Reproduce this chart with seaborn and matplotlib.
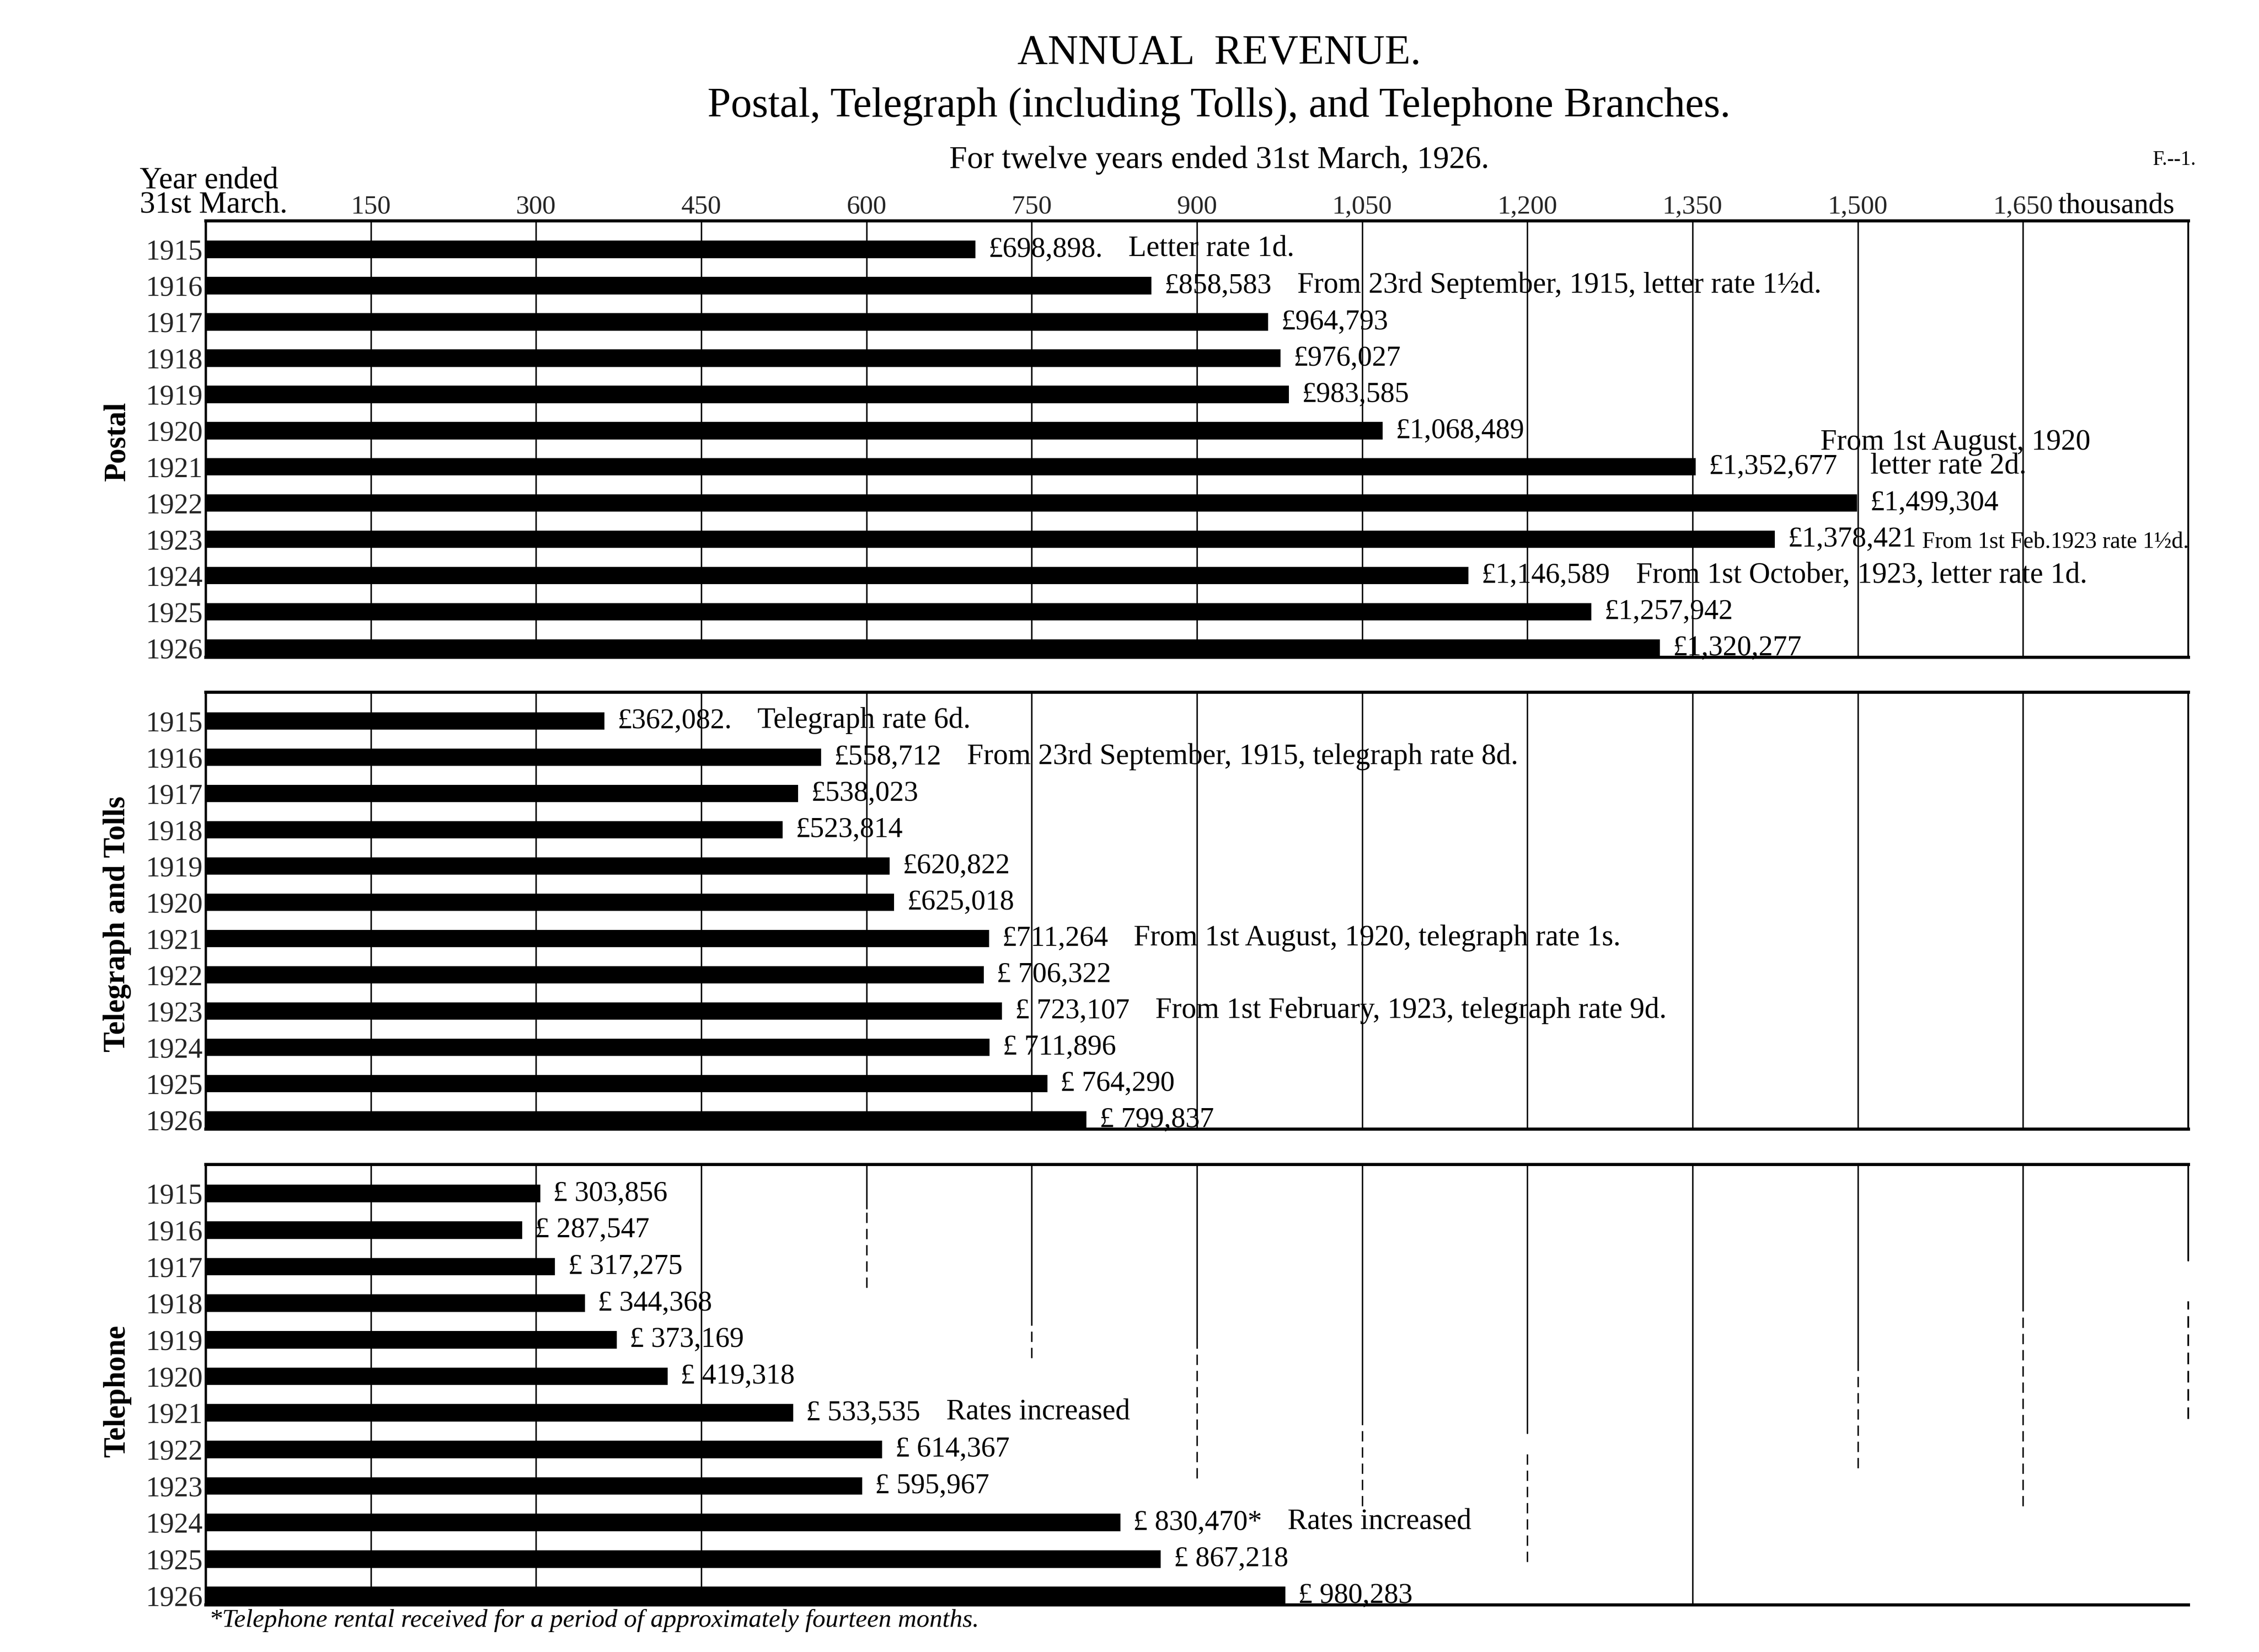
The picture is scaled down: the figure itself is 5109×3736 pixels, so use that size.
import matplotlib
matplotlib.use("Agg")
import matplotlib.pyplot as plt
import pandas as pd
import seaborn as sns

# ---------------- data ----------------
years = ["1915", "1916", "1917", "1918", "1919", "1920",
         "1921", "1922", "1923", "1924", "1925", "1926"]

# bar lengths in £ thousands, as drawn (the 1923 postal bar is drawn longer
# than its printed figure in the original chart)
postal = [698.898, 858.583, 964.793, 976.027, 983.585, 1068.489,
          1352.677, 1499.304, 1424.7, 1146.589, 1257.942, 1320.277]
telegraph = [362.082, 558.712, 538.023, 523.814, 620.822, 625.018,
             711.264, 706.322, 723.107, 711.896, 764.290, 799.837]
telephone = [303.856, 287.547, 317.275, 344.368, 373.169, 419.318,
             533.535, 614.367, 595.967, 830.470, 867.218, 980.283]

postal_labels = ["£698,898.", "£858,583", "£964,793", "£976,027", "£983,585",
                 "£1,068,489", "£1,352,677", "£1,499,304", "£1,378,421",
                 "£1,146,589", "£1,257,942", "£1,320,277"]
telegraph_labels = ["£362,082.", "£558,712", "£538,023", "£523,814", "£620,822",
                    "£625,018", "£711,264", "£ 706,322", "£ 723,107",
                    "£ 711,896", "£ 764,290", "£ 799,837"]
telephone_labels = ["£ 303,856", "£ 287,547", "£ 317,275", "£ 344,368",
                    "£ 373,169", "£ 419,318", "£ 533,535", "£ 614,367",
                    "£ 595,967", "£ 830,470*", "£ 867,218", "£ 980,283"]

postal_notes = {"1915": "Letter rate 1d.",
                "1916": "From 23rd September, 1915, letter rate 1½d.",
                "1921": "letter rate 2d.",
                "1923": "From 1st Feb.1923 rate 1½d.",
                "1924": "From 1st October, 1923, letter rate 1d."}
postal_note_above = {"1921": "From 1st August, 1920"}
telegraph_notes = {"1915": "Telegraph rate 6d.",
                   "1916": "From 23rd September, 1915, telegraph rate 8d.",
                   "1921": "From 1st August, 1920, telegraph rate 1s.",
                   "1923": "From 1st February, 1923, telegraph rate 9d."}
telephone_notes = {"1921": "Rates increased",
                   "1924": "Rates increased"}

panel_names = ["Postal", "Telegraph and Tolls", "Telephone"]

tick_values = [150, 300, 450, 600, 750, 900, 1050, 1200, 1350, 1500, 1650]
tick_labels = ["150", "300", "450", "600", "750", "900",
               "1,050", "1,200", "1,350", "1,500", "1,650"]

title = "ANNUAL  REVENUE."
subtitle = "Postal, Telegraph (including Tolls), and Telephone Branches."
period = "For twelve years ended 31st March, 1926."
footnote = "*Telephone rental received for a period of approximately fourteen months."

# ---------------- style ----------------
sns.set_style("white")
plt.rcParams["font.family"] = ["Liberation Serif", "DejaVu Serif"]
plt.rcParams["text.color"] = "black"

W, H, DPI = 5109, 3736, 300
fig = plt.figure(figsize=(W / DPI, H / DPI), dpi=DPI)
fig.patch.set_facecolor("white")

L, R = 465 / W, 4949 / W
panel_px = [(498.6, 1486), (1565, 2553), (2633, 3629)]
label_y = [998, 2090, 3145]

VAL_FS = 15.5
NOTE_FS = 16
NOTE_GAP = 14

# special note styling (gap in points, font size)
note_style = {("Postal", "1921"): (18, NOTE_FS),
              ("Postal", "1923"): (3, 12.5)}

# telephone panel: worn grid lines (ymin, ymax, style) in axes fraction
SOLID, DASH = "-", (0, (7, 4))
tele_grid = {150: [(0, 1, SOLID)], 300: [(0, 1, SOLID)], 450: [(0, 1, SOLID)],
             600: [(0.9, 1, SOLID), (0.72, 0.9, DASH)],
             750: [(0.647, 1, SOLID), (0.56, 0.647, DASH)],
             900: [(0.604, 1, SOLID), (0.287, 0.604, DASH)],
             1050: [(0.415, 1, SOLID), (0.224, 0.415, DASH)],
             1200: [(0.39, 1, SOLID), (0.097, 0.351, DASH)],
             1350: [(0, 1, SOLID)],
             1500: [(0.555, 1, SOLID), (0.31, 0.555, DASH)],
             1650: [(0.668, 1, SOLID), (0.224, 0.661, DASH)]}
tele_right = [(0.781, 1, SOLID), (0.422, 0.689, DASH)]

series = [postal, telegraph, telephone]
labels = [postal_labels, telegraph_labels, telephone_labels]
notes = [postal_notes, telegraph_notes, telephone_notes]

for k, ((top, bot), name) in enumerate(zip(panel_px, panel_names)):
    ax = fig.add_axes([L, 1 - bot / H, R - L, (bot - top) / H])
    df = pd.DataFrame({"year": years, "value": series[k]})
    sns.barplot(data=df, x="value", y="year", order=years, orient="h",
                color="black", saturation=1, width=0.48, linewidth=0,
                errorbar=None, ax=ax)
    ax.set_xlim(0, 1800)
    ax.set_ylim(11.25, -0.8)
    ax.set_xlabel("")
    ax.set_ylabel("")
    ax.set_xticks(tick_values)
    ax.set_axisbelow(True)

    if k == 0:
        ax.xaxis.set_ticks_position("top")
        ax.set_xticklabels(tick_labels, fontsize=14.5)
        ax.tick_params(axis="x", length=0, pad=0.8)
        ax.annotate("thousands", xy=(1650, 1), xycoords=("data", "axes fraction"),
                    xytext=(19, 4), textcoords="offset points",
                    ha="left", va="baseline", fontsize=15.8)
    else:
        ax.set_xticklabels([])
        ax.tick_params(axis="x", length=0)
    ax.tick_params(axis="y", length=0, pad=1.5, labelsize=15.5)

    # grid lines
    if k < 2:
        ax.grid(axis="x", color="black", linewidth=0.8)
        ax.grid(axis="y", visible=False)
    else:
        ax.grid(False)
        for v in tick_values:
            for lo, hi, ls in tele_grid[v]:
                ax.axvline(v, ymin=lo, ymax=hi, color="black", lw=0.8,
                           linestyle=ls, zorder=0.5)

    # frame
    for side, lw in [("top", 1.7), ("bottom", 1.7), ("left", 1.3), ("right", 1.0)]:
        ax.spines[side].set_visible(True)
        ax.spines[side].set_color("black")
        ax.spines[side].set_linewidth(lw)
    if k == 2:
        ax.spines["right"].set_visible(False)
        for lo, hi, ls in tele_right:
            ax.plot([1, 1], [lo, hi], transform=ax.transAxes, color="black",
                    lw=0.9, linestyle=ls, clip_on=False)

    # value labels
    texts = ax.bar_label(ax.containers[0], labels=labels[k], padding=7,
                         fontsize=VAL_FS)
    note_artists = {}
    for yr, note in notes[k].items():
        gap, fs = note_style.get((name, yr), (NOTE_GAP, NOTE_FS))
        base = texts[years.index(yr)]
        note_artists[yr] = ax.annotate(note, xy=(1, 0), xycoords=base,
                                       xytext=(gap, 0), textcoords="offset points",
                                       ha="left", va="bottom", fontsize=fs)
    if k == 0:
        for yr, note in postal_note_above.items():
            ax.annotate(note, xy=(0, 0), xycoords=note_artists[yr],
                        xytext=(-27, 13.2), textcoords="offset points",
                        ha="left", va="bottom", fontsize=NOTE_FS)

    fig.text(265 / W, 1 - label_y[k] / H, name, rotation=90, ha="center",
             va="center", fontsize=16.5, fontweight="bold")

# headings
fig.text(2757 / W, 1 - 145 / H, title, ha="center", va="baseline", fontsize=22.8)
fig.text(2757 / W, 1 - 264 / H, subtitle, ha="center", va="baseline", fontsize=22.8)
fig.text(2757 / W, 1 - 380 / H, period, ha="center", va="baseline", fontsize=17.4)
fig.text(4967 / W, 1 - 373 / H, "F.--1.", ha="right", va="baseline", fontsize=11)
fig.text(316 / W, 1 - 425 / H, "Year ended", ha="left", va="baseline", fontsize=16.8)
fig.text(316 / W, 1 - 482 / H, "31st March.", ha="left", va="baseline", fontsize=16.8)
fig.text(473 / W, 1 - 3665 / H, footnote, ha="left", va="center",
         fontsize=14, style="italic")

fig.savefig("out.png", dpi=DPI, facecolor="white")
